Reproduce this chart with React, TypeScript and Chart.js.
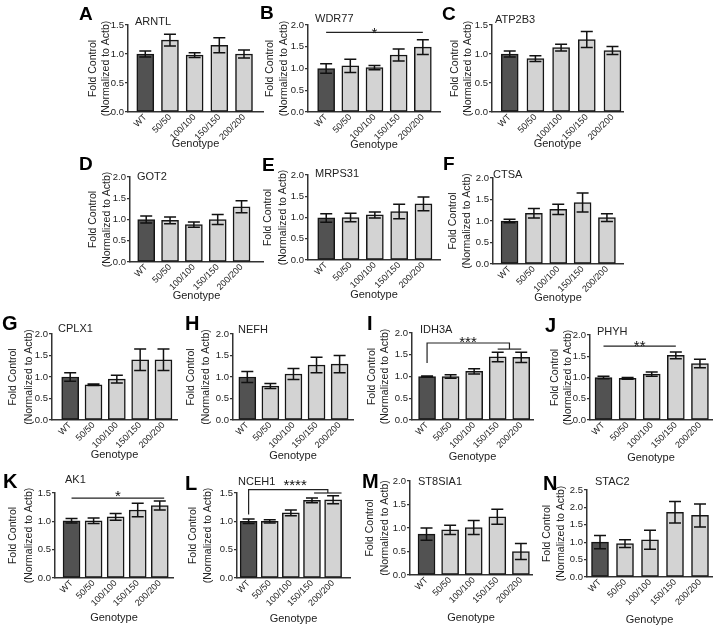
import React, { useEffect, useRef } from 'react';
import { Chart, registerables } from 'chart.js';

Chart.register(...registerables);

const GENOTYPES = ['WT', '50/50', '100/100', '150/150', '200/200'];
const Y_TITLE = ['Fold Control', '(Normalized to Actb)'];
const X_TITLE = 'Genotype';

const ARNTL_MEAN = [1.0, 1.24, 0.98, 1.15, 1.0];
const ARNTL_SEM = [0.05, 0.1, 0.04, 0.13, 0.07];
const WDR77_MEAN = [1.0, 1.06, 1.02, 1.31, 1.49];
const WDR77_SEM = [0.11, 0.15, 0.05, 0.14, 0.17];
const ATP2B3_MEAN = [1.0, 0.92, 1.11, 1.25, 1.06];
const ATP2B3_SEM = [0.05, 0.05, 0.06, 0.14, 0.07];
const GOT2_MEAN = [1.0, 0.98, 0.88, 1.0, 1.3];
const GOT2_SEM = [0.08, 0.08, 0.06, 0.12, 0.14];
const MRPS31_MEAN = [0.99, 1.0, 1.06, 1.14, 1.32];
const MRPS31_SEM = [0.1, 0.1, 0.07, 0.17, 0.16];
const CTSA_MEAN = [1.0, 1.18, 1.27, 1.43, 1.08];
const CTSA_SEM = [0.04, 0.11, 0.12, 0.22, 0.09];
const CPLX1_MEAN = [1.0, 0.82, 0.95, 1.4, 1.4];
const CPLX1_SEM = [0.1, 0.02, 0.09, 0.25, 0.25];
const NEFH_MEAN = [1.0, 0.79, 1.07, 1.28, 1.3];
const NEFH_SEM = [0.13, 0.06, 0.13, 0.18, 0.2];
const IDH3A_MEAN = [1.0, 1.0, 1.12, 1.45, 1.44];
const IDH3A_SEM = [0.01, 0.04, 0.06, 0.11, 0.12];
const PHYH_MEAN = [1.0, 0.98, 1.08, 1.52, 1.33];
const PHYH_SEM = [0.03, 0.02, 0.05, 0.08, 0.1];
const AK1_MEAN = [1.01, 1.01, 1.08, 1.2, 1.28];
const AK1_SEM = [0.04, 0.05, 0.06, 0.12, 0.08];
const NCEH1_MEAN = [1.0, 1.0, 1.15, 1.37, 1.38];
const NCEH1_SEM = [0.04, 0.03, 0.05, 0.04, 0.07];
const ST8SIA1_MEAN = [0.87, 0.96, 1.01, 1.24, 0.5];
const ST8SIA1_SEM = [0.13, 0.1, 0.15, 0.16, 0.17];
const STAC2_MEAN = [1.0, 0.96, 1.07, 1.86, 1.77];
const STAC2_SEM = [0.19, 0.11, 0.27, 0.31, 0.33];

type Bracket = { paths: number[][][]; label: string; lx: number; ly: number };

const WDR77_SIG: Bracket[] = [{ paths: [[[0, 1.83], [4, 1.83]]], label: '*', lx: 2, ly: 1.89 }];
const IDH3A_SIG: Bracket[] = [
  { paths: [[[0, 1.31], [0, 1.77], [3.5, 1.77], [3.5, 1.63]], [[3, 1.63], [4, 1.63]]], label: '***', lx: 1.74, ly: 1.88 },
];
const PHYH_SIG: Bracket[] = [{ paths: [[[0, 1.74], [3, 1.74]]], label: '**', lx: 1.5, ly: 1.82 }];
const AK1_SIG: Bracket[] = [{ paths: [[[0, 1.41], [4.2, 1.41]]], label: '*', lx: 2.1, ly: 1.51 }];
const NCEH1_SIG: Bracket[] = [
  { paths: [[[0, 1.12], [0, 1.56], [3.75, 1.56], [3.75, 1.5]], [[3.1, 1.5], [4.4, 1.5]]], label: '****', lx: 2.2, ly: 1.7 },
];

const FONT = '"Liberation Sans", Arial, Helvetica, sans-serif';
const Y_W = 54;
const TOP_PAD = 26;
const RIGHT_PAD = 8;

type Geo = {
  axisX: number; topY: number; zeroY: number; rightX: number;
  xMin: number; xMax: number; d1: number; lh: number; gY: number; rot: number; gSize: number;
};

const errorBarPlugin = {
  id: 'errbars',
  afterDatasetsDraw(chart: any) {
    const sems: number[] = chart.options.plugins.errbars.sems;
    const means: number[] = chart.options.plugins.errbars.means;
    const xs = chart.scales.x;
    const ys = chart.scales.y;
    const ctx = chart.ctx;
    ctx.save();
    ctx.strokeStyle = '#111';
    ctx.lineWidth = 1.5;
    means.forEach((m, i) => {
      const x = xs.getPixelForValue(i);
      const y1 = ys.getPixelForValue(m + sems[i]);
      const y2 = ys.getPixelForValue(m - sems[i]);
      ctx.beginPath();
      ctx.moveTo(x, y1); ctx.lineTo(x, y2);
      ctx.moveTo(x - 6, y1); ctx.lineTo(x + 6, y1);
      ctx.moveTo(x - 6, y2); ctx.lineTo(x + 6, y2);
      ctx.stroke();
    });
    const brackets: Bracket[] = chart.options.plugins.errbars.brackets;
    ctx.lineWidth = 1.2;
    ctx.strokeStyle = '#222';
    ctx.fillStyle = '#111';
    brackets.forEach((b) => {
      b.paths.forEach((p) => {
        ctx.beginPath();
        p.forEach((pt, k) => {
          const px = xs.getPixelForValue(pt[0]);
          const py = ys.getPixelForValue(pt[1]);
          if (k === 0) ctx.moveTo(px, py); else ctx.lineTo(px, py);
        });
        ctx.stroke();
      });
      const fs = 15;
      ctx.font = `${fs}px ${FONT}`;
      ctx.textAlign = 'center';
      ctx.textBaseline = 'alphabetic';
      ctx.fillText(b.label, xs.getPixelForValue(b.lx), ys.getPixelForValue(b.ly) + 0.57 * fs);
    });
    ctx.restore();
  },
};

function Panel(props: { means: number[]; sems: number[]; yMax: number; brackets: Bracket[]; geo: Geo }) {
  const ref = useRef<HTMLCanvasElement>(null);
  const { geo, means, sems, yMax, brackets } = props;
  const left = Math.round(geo.axisX - Y_W);
  const top = Math.round(geo.topY - TOP_PAD);
  const width = Math.round(geo.rightX + RIGHT_PAD - left);
  const height = Math.ceil(geo.gY + 7 - top);
  const yW = geo.axisX - left;
  const padTop = geo.topY - top;
  const padRight = left + width - geo.rightX;
  const xH = height - (geo.zeroY - top);

  useEffect(() => {
    const chart = new Chart(ref.current as HTMLCanvasElement, {
      type: 'bar',
      data: {
        datasets: [
          {
            data: means.map((v, i) => ({ x: i, y: v })),
            backgroundColor: means.map((_, i) => (i === 0 ? '#525252' : '#d3d3d3')),
            borderColor: '#151515',
            borderWidth: 1.5,
            borderSkipped: false,
            barThickness: 17,
          } as any,
        ],
      },
      options: {
        animation: false,
        responsive: false,
        maintainAspectRatio: false,
        events: [],
        layout: { padding: { left: 0, top: padTop, right: padRight, bottom: 0 } },
        plugins: {
          legend: { display: false },
          tooltip: { enabled: false },
          errbars: { means, sems, brackets },
        } as any,
        scales: {
          x: {
            type: 'linear',
            min: geo.xMin,
            max: geo.xMax,
            bounds: 'data',
            offset: false,
            afterBuildTicks: (s: any) => {
              s.ticks = GENOTYPES.map((_, i) => ({ value: i }));
            },
            ticks: {
              callback: (v: any) => GENOTYPES[Math.round(Number(v))],
              minRotation: geo.rot,
              maxRotation: geo.rot,
              autoSkip: false,
              padding: 0,
              font: { family: FONT, size: 9 },
              color: '#222',
            },
            grid: { display: false, drawTicks: false },
            border: { display: true, color: '#333', width: 1.5 },
            title: { display: true, text: X_TITLE, font: { family: FONT, size: geo.gSize, lineHeight: 1.2 }, color: '#222', padding: 0 },
            afterFit: (s: any) => { s.height = xH; },
          } as any,
          y: {
            min: 0,
            max: yMax,
            ticks: {
              stepSize: 0.5,
              callback: (v: any) => Number(v).toFixed(1),
              padding: 1,
              font: { family: FONT, size: 9.5 },
              color: '#222',
            },
            grid: { drawOnChartArea: false, drawTicks: true, tickLength: 3, color: '#333', lineWidth: 1.2 },
            border: { display: true, color: '#333', width: 1.5 },
            title: {
              display: true,
              text: Y_TITLE,
              color: '#222',
              font: { family: FONT, size: 10.5, lineHeight: geo.lh / 10.5 },
              padding: { top: yW - geo.d1 - geo.lh / 2, bottom: 0 },
            },
            afterFit: (s: any) => { s.width = yW; },
          } as any,
        },
      },
      plugins: [errorBarPlugin],
    });
    return () => chart.destroy();
  }, []);

  return (
    <canvas
      ref={ref}
      width={width}
      height={height}
      style={{ position: 'absolute', left, top, width, height }}
    />
  );
}

function Label(props: { text: string; x: number; base: number; size: number; bold?: boolean }) {
  const { text, x, base, size, bold } = props;
  return (
    <div
      style={{
        position: 'absolute',
        left: x,
        top: base - 0.8465 * size,
        fontFamily: FONT,
        fontSize: size,
        lineHeight: `${size}px`,
        fontWeight: bold ? 700 : 400,
        color: bold ? '#000' : '#222',
        whiteSpace: 'nowrap',
        zIndex: 2,
      }}
    >
      {text}
    </div>
  );
}

const g = (axisX: number, topY: number, zeroY: number, rightX: number, xMin: number, xMax: number, d1: number, lh: number, gY: number, rot: number, gSize: number): Geo =>
  ({ axisX, topY, zeroY, rightX, xMin, xMax, d1, lh, gY, rot, gSize });

export default function App() {
  return (
    <div style={{ position: 'fixed', left: 0, top: 0, width: 720, height: 628, background: '#fff', overflow: 'hidden' }}>
      <Panel means={ARNTL_MEAN} sems={ARNTL_SEM} yMax={1.5} brackets={[]} geo={g(128, 25, 112, 263, -0.7, 4.77, 35, 13.5, 144, 45, 11)} />
      <Panel means={WDR77_MEAN} sems={WDR77_SEM} yMax={2} brackets={WDR77_SIG} geo={g(308, 25, 112, 440, -0.75, 4.71, 38, 14, 145, 45, 11)} />
      <Panel means={ATP2B3_MEAN} sems={ATP2B3_SEM} yMax={1.5} brackets={[]} geo={g(492, 25, 112, 623, -0.69, 4.41, 37, 13.5, 144, 45, 11)} />

      <Panel means={GOT2_MEAN} sems={GOT2_SEM} yMax={2} brackets={[]} geo={g(130, 177, 262, 263, -0.68, 4.9, 36.7, 13.4, 296, 45, 11)} />
      <Panel means={MRPS31_MEAN} sems={MRPS31_SEM} yMax={2} brackets={[]} geo={g(308, 175, 260, 440, -0.75, 4.68, 40, 15, 295, 45, 11)} />
      <Panel means={CTSA_MEAN} sems={CTSA_SEM} yMax={2} brackets={[]} geo={g(493, 178, 264, 623, -0.68, 4.66, 39.7, 13.4, 298, 45, 11)} />

      <Panel means={CPLX1_MEAN} sems={CPLX1_SEM} yMax={2} brackets={[]} geo={g(52, 334, 420, 177, -0.78, 4.58, 38.4, 15.5, 455, 45, 11)} />
      <Panel means={NEFH_MEAN} sems={NEFH_SEM} yMax={2} brackets={[]} geo={g(233, 334, 420, 353, -0.62, 4.58, 41.7, 15, 456, 45, 11)} />
      <Panel means={IDH3A_MEAN} sems={IDH3A_SEM} yMax={2} brackets={IDH3A_SIG} geo={g(412, 333, 420, 533, -0.64, 4.5, 40.3, 13.5, 457, 45, 11)} />
      <Panel means={PHYH_MEAN} sems={PHYH_SEM} yMax={2} brackets={PHYH_SIG} geo={g(590, 335, 420, 712, -0.56, 4.5, 35, 13, 458, 45, 11)} />

      <Panel means={AK1_MEAN} sems={AK1_SEM} yMax={1.5} brackets={AK1_SIG} geo={g(55, 493, 578, 173, -0.75, 4.6, 41.7, 16, 617.5, 45, 11)} />
      <Panel means={NCEH1_MEAN} sems={NCEH1_SEM} yMax={1.5} brackets={NCEH1_SIG} geo={g(237, 493, 578, 350, -0.55, 4.8, 43.4, 15, 619, 45, 11)} />
      <Panel means={ST8SIA1_MEAN} sems={ST8SIA1_SEM} yMax={2} brackets={[]} geo={g(410, 481, 575, 532, -0.7, 4.47, 40, 15, 617.5, 45, 11)} />
      <Panel means={STAC2_MEAN} sems={STAC2_SEM} yMax={2.5} brackets={[]} geo={g(587, 490, 577, 712, -0.52, 4.48, 40.3, 14, 620, 45, 11)} />

      <Label text="A" x={79} base={20} size={19} bold />
      <Label text="B" x={260} base={19} size={19} bold />
      <Label text="C" x={442} base={20} size={19} bold />
      <Label text="D" x={79} base={170} size={19} bold />
      <Label text="E" x={262} base={171} size={19} bold />
      <Label text="F" x={443} base={170} size={19} bold />
      <Label text="G" x={2} base={330} size={20} bold />
      <Label text="H" x={185} base={330} size={20} bold />
      <Label text="I" x={367} base={330} size={20} bold />
      <Label text="J" x={545} base={332} size={20} bold />
      <Label text="K" x={3} base={488} size={20} bold />
      <Label text="L" x={185} base={490} size={20} bold />
      <Label text="M" x={362} base={488} size={20} bold />
      <Label text="N" x={543} base={490} size={20} bold />

      <Label text="ARNTL" x={135} base={25} size={11} />
      <Label text="WDR77" x={315} base={22} size={11} />
      <Label text="ATP2B3" x={495} base={23} size={11} />
      <Label text="GOT2" x={137} base={180} size={11} />
      <Label text="MRPS31" x={315} base={177} size={11} />
      <Label text="CTSA" x={493} base={178} size={11} />
      <Label text="CPLX1" x={58} base={332} size={11} />
      <Label text="NEFH" x={238} base={333} size={11} />
      <Label text="IDH3A" x={420} base={333} size={11} />
      <Label text="PHYH" x={597} base={335} size={11} />
      <Label text="AK1" x={65} base={483} size={11} />
      <Label text="NCEH1" x={238} base={485} size={11} />
      <Label text="ST8SIA1" x={418} base={485} size={11} />
      <Label text="STAC2" x={595} base={485} size={11} />
    </div>
  );
}
